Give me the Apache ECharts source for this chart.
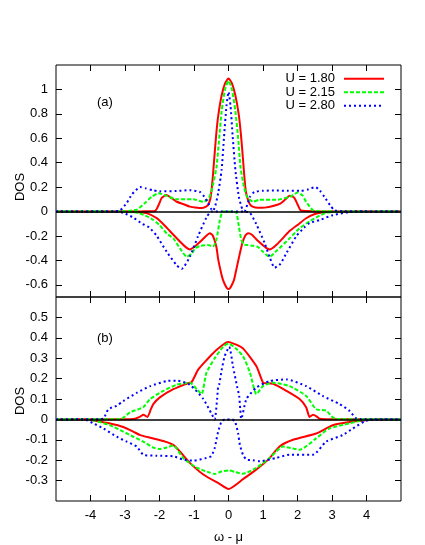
<!DOCTYPE html>
<html>
<head>
<meta charset="utf-8">
<script src="https://cdn.jsdelivr.net/npm/echarts@6/dist/echarts.min.js"></script>
<style>html,body{margin:0;padding:0;background:#fff}#c{width:425px;height:545px}</style>
</head>
<body>
<div id="c"></div>
<script>
// ---- data (omega - mu, DOS) ----
const seriesNames = ['U = 1.80', 'U = 2.15', 'U = 2.80'];
const xTicks = [-4, -3, -2, -1, 0, 1, 2, 3, 4];
const yTicksA = [-0.6, -0.4, -0.2, 0, 0.2, 0.4, 0.6, 0.8, 1];
const yTicksB = [-0.3, -0.2, -0.1, 0, 0.1, 0.2, 0.3, 0.4, 0.5];

// panel (a)
const aRedUp = [[-5,0],[-2.5,0.002],[-2.13,0.005],[-2.0,0.07],[-1.94,0.11],[-1.8,0.135],[-1.65,0.11],[-1.5,0.08],[-1.3,0.06],[-1.12,0.04],[-0.9,0.03],[-0.78,0.028],[-0.65,0.04],[-0.59,0.055],[-0.53,0.1],[-0.49,0.18],[-0.45,0.3],[-0.4,0.48],[-0.35,0.65],[-0.3,0.78],[-0.2,0.95],[-0.1,1.05],[0,1.09],[0.1,1.05],[0.2,0.95],[0.3,0.79],[0.35,0.66],[0.4,0.5],[0.45,0.32],[0.5,0.17],[0.56,0.1],[0.62,0.06],[0.7,0.04],[0.85,0.03],[1.05,0.032],[1.29,0.045],[1.5,0.065],[1.65,0.1],[1.77,0.13],[1.9,0.115],[2.0,0.06],[2.1,0.008],[2.5,0.002],[5,0]];
const aGreenUp = [[-5,0],[-3.05,0.002],[-2.66,0.015],[-2.42,0.07],[-2.23,0.12],[-2.03,0.15],[-1.79,0.128],[-1.5,0.1],[-1.02,0.1],[-0.73,0.08],[-0.59,0.1],[-0.5,0.16],[-0.45,0.22],[-0.35,0.36],[-0.27,0.6],[-0.2,0.82],[-0.1,1.0],[0,1.07],[0.1,1.0],[0.2,0.82],[0.28,0.6],[0.35,0.36],[0.45,0.2],[0.52,0.13],[0.6,0.1],[0.71,0.08],[0.9,0.096],[1.38,0.096],[1.77,0.12],[2.01,0.155],[2.15,0.13],[2.25,0.08],[2.45,0.01],[2.7,0.002],[5,0]];
const aBlueUp = [[-5,0],[-3.3,0.003],[-3.14,0.01],[-2.95,0.07],[-2.8,0.14],[-2.56,0.2],[-2.4,0.19],[-2.2,0.175],[-2.0,0.165],[-1.5,0.168],[-1.12,0.175],[-0.83,0.16],[-0.7,0.12],[-0.59,0.07],[-0.5,0.02],[-0.45,0.005],[-0.38,0.05],[-0.3,0.15],[-0.2,0.34],[-0.13,0.61],[-0.06,0.86],[0,0.98],[0.06,0.86],[0.12,0.62],[0.2,0.34],[0.3,0.12],[0.4,0.02],[0.47,0.005],[0.55,0.06],[0.62,0.12],[0.75,0.16],[1.0,0.17],[1.4,0.172],[1.7,0.17],[2.1,0.17],[2.3,0.18],[2.52,0.2],[2.65,0.17],[2.78,0.12],[2.95,0.05],[3.07,0.01],[3.3,0.003],[5,0]];
const aRedDn = [[-5,0],[-2.8,-0.002],[-2.6,-0.005],[-2.37,-0.013],[-2.08,-0.054],[-1.9,-0.1],[-1.7,-0.16],[-1.41,-0.245],[-1.2,-0.3],[-1.12,-0.31],[-0.95,-0.28],[-0.83,-0.25],[-0.65,-0.2],[-0.54,-0.178],[-0.45,-0.2],[-0.35,-0.29],[-0.3,-0.39],[-0.2,-0.52],[-0.16,-0.56],[-0.1,-0.6],[-0.05,-0.625],[0,-0.635],[0.05,-0.625],[0.1,-0.6],[0.16,-0.56],[0.2,-0.51],[0.3,-0.38],[0.4,-0.26],[0.48,-0.2],[0.57,-0.178],[0.68,-0.19],[0.85,-0.24],[1.1,-0.3],[1.2,-0.31],[1.4,-0.27],[1.77,-0.16],[2.0,-0.11],[2.25,-0.055],[2.5,-0.02],[2.7,-0.008],[3.0,-0.002],[5,0]];
const aGreenDn = [[-5,0],[-3.0,-0.002],[-2.6,-0.012],[-2.23,-0.06],[-2.0,-0.11],[-1.79,-0.18],[-1.6,-0.22],[-1.41,-0.3],[-1.21,-0.37],[-1.05,-0.34],[-0.97,-0.3],[-0.8,-0.28],[-0.6,-0.275],[-0.45,-0.285],[-0.35,-0.23],[-0.25,-0.07],[-0.16,0],[0.16,0],[0.23,-0.01],[0.3,-0.12],[0.37,-0.23],[0.45,-0.27],[0.55,-0.275],[0.7,-0.28],[0.85,-0.29],[1.0,-0.33],[1.19,-0.37],[1.4,-0.32],[1.77,-0.22],[2.05,-0.14],[2.35,-0.08],[2.6,-0.04],[2.83,-0.01],[3.1,-0.003],[5,0]];
const aBlueDn = [[-5,0],[-3.3,-0.003],[-3.05,-0.01],[-2.76,-0.05],[-2.5,-0.1],[-2.3,-0.13],[-2.08,-0.2],[-1.79,-0.33],[-1.5,-0.44],[-1.36,-0.47],[-1.12,-0.37],[-0.88,-0.2],[-0.64,-0.05],[-0.49,0],[0.45,0],[0.62,-0.01],[0.8,-0.1],[1.05,-0.26],[1.2,-0.38],[1.34,-0.46],[1.5,-0.43],[1.68,-0.34],[1.97,-0.2],[2.2,-0.13],[2.35,-0.095],[2.64,-0.07],[3.02,-0.03],[3.5,-0.005],[5,0]];

// panel (b)
const bRedUp = [[-5,0],[-2.85,0.001],[-2.71,0.003],[-2.55,0.015],[-2.47,0.023],[-2.35,0.012],[-2.25,0.05],[-2.18,0.075],[-1.99,0.108],[-1.6,0.148],[-1.21,0.175],[-1.07,0.183],[-0.88,0.244],[-0.64,0.29],[-0.35,0.34],[-0.06,0.378],[0,0.38],[0.2,0.368],[0.42,0.348],[0.81,0.26],[1.0,0.18],[1.1,0.177],[1.29,0.175],[1.68,0.14],[2.06,0.1],[2.25,0.06],[2.35,0.012],[2.45,0.023],[2.55,0.015],[2.64,0.003],[2.8,0.001],[5,0]];
const bGreenUp = [[-5,0],[-3.25,0.001],[-3.09,0.004],[-2.85,0.035],[-2.61,0.05],[-2.47,0.06],[-2.27,0.1],[-1.89,0.14],[-1.5,0.17],[-1.12,0.18],[-0.92,0.148],[-0.78,0.124],[-0.64,0.228],[-0.4,0.3],[-0.16,0.355],[0,0.372],[0.2,0.35],[0.42,0.31],[0.62,0.23],[0.81,0.124],[1.0,0.163],[1.29,0.18],[1.77,0.163],[2.25,0.115],[2.54,0.05],[2.83,0.043],[3.02,0.01],[3.15,0.002],[5,0]];
const bBlueUp = [[-5,0],[-3.75,0.001],[-3.62,0.005],[-3.48,0.05],[-3.24,0.067],[-3.05,0.09],[-2.66,0.13],[-2.27,0.163],[-1.79,0.188],[-1.5,0.19],[-1.12,0.17],[-0.73,0.1],[-0.49,0.027],[-0.4,0],[-0.33,0.1],[-0.3,0.16],[-0.27,0.17],[-0.2,0.24],[-0.11,0.31],[0.02,0.356],[0.13,0.26],[0.25,0.16],[0.31,0.115],[0.34,0.05],[0.37,0.003],[0.52,0.1],[0.81,0.156],[1.19,0.188],[1.68,0.196],[2.25,0.163],[2.73,0.115],[3.22,0.075],[3.5,0.043],[3.7,0.005],[3.85,0.001],[5,0]];
const bRedDn = [[-5,0],[-4.1,0],[-3.91,-0.005],[-3.43,-0.02],[-3.05,-0.037],[-2.76,-0.06],[-2.56,-0.077],[-2.27,-0.09],[-1.89,-0.106],[-1.6,-0.125],[-1.41,-0.157],[-1.12,-0.213],[-0.73,-0.27],[-0.25,-0.317],[0,-0.341],[0.42,-0.293],[0.81,-0.245],[1.15,-0.197],[1.48,-0.133],[1.87,-0.1],[2.54,-0.069],[3.02,-0.029],[3.5,-0.013],[3.94,-0.005],[4.1,0],[5,0]];
const bGreenDn = [[-5,0],[-4.1,0],[-3.91,-0.005],[-3.43,-0.029],[-3.05,-0.06],[-2.76,-0.085],[-2.47,-0.109],[-2.18,-0.138],[-2.0,-0.145],[-1.79,-0.138],[-1.6,-0.128],[-1.31,-0.19],[-0.92,-0.237],[-0.54,-0.261],[-0.4,-0.268],[-0.2,-0.255],[0,-0.25],[0.2,-0.258],[0.42,-0.266],[0.81,-0.237],[1.19,-0.19],[1.58,-0.133],[1.8,-0.14],[2.06,-0.149],[2.54,-0.093],[2.92,-0.045],[3.5,-0.02],[3.85,-0.005],[4.1,0],[5,0]];
const bBlueDn = [[-5,0],[-4.2,0],[-3.91,-0.02],[-3.62,-0.045],[-3.24,-0.085],[-2.95,-0.109],[-2.66,-0.133],[-2.47,-0.173],[-2.08,-0.178],[-1.6,-0.181],[-1.31,-0.197],[-1.02,-0.202],[-0.64,-0.189],[-0.5,-0.18],[-0.4,-0.14],[-0.35,-0.1],[-0.3,-0.06],[-0.2,-0.01],[-0.1,0],[0.1,0],[0.19,-0.01],[0.28,-0.07],[0.33,-0.125],[0.42,-0.173],[0.52,-0.197],[0.71,-0.2],[0.91,-0.205],[1.38,-0.189],[1.77,-0.173],[2.45,-0.173],[2.83,-0.109],[3.31,-0.077],[3.6,-0.045],[3.94,-0.01],[4.1,-0.003],[5,0]];

// ---- chart ----
const FONT = '"Liberation Sans", Arial, Helvetica, sans-serif';
const styles = [
  { color: '#ff0000', type: 'solid' },
  { color: '#00ff00', type: [4, 2] },
  { color: '#0000ff', type: [2, 3] }
];
const fmt = v => String(Number(v.toFixed(2)));

function xAxisDef(gridIndex, position, showLabel, name) {
  return {
    type: 'value', gridIndex, position, min: -5, max: 5,
    axisLine: { show: false, onZero: false }, splitLine: { show: false },
    axisTick: { show: true, inside: true, length: 6, customValues: xTicks, lineStyle: { color: '#000', width: 1 } },
    axisLabel: { show: showLabel, customValues: xTicks, margin: 8, color: '#000', fontSize: 13, fontFamily: FONT, formatter: fmt },
    name: name || '', nameLocation: 'middle', nameGap: 30,
    nameTextStyle: { color: '#000', fontSize: 13, fontFamily: FONT }
  };
}
function yAxisDef(gridIndex, position, showLabel, min, max, ticks) {
  return {
    type: 'value', gridIndex, position, min, max,
    axisLine: { show: false, onZero: false }, splitLine: { show: false },
    axisTick: { show: true, inside: true, length: 6, customValues: ticks, lineStyle: { color: '#000', width: 1 } },
    axisLabel: { show: showLabel, customValues: ticks, margin: 8, color: '#000', fontSize: 13, fontFamily: FONT, formatter: fmt }
  };
}

function curve(data, idx, axisIdx) {
  return {
    type: 'line', name: seriesNames[idx], data, xAxisIndex: axisIdx, yAxisIndex: axisIdx,
    symbol: 'none', smooth: 0.2, z: 3, animation: false,
    lineStyle: { color: styles[idx].color, type: styles[idx].type, width: 2, cap: 'butt' },
    itemStyle: { color: styles[idx].color }
  };
}
function zeroLine(axisIdx) {
  return {
    type: 'line', name: 'zero', data: [], xAxisIndex: axisIdx, yAxisIndex: axisIdx, z: 2, silent: true, animation: false,
    markLine: { silent: true, symbol: 'none', animation: false, label: { show: false },
      lineStyle: { color: '#000', width: 1.5, type: 'solid' }, data: [{ yAxis: 0 }] }
  };
}

const chart = echarts.init(document.getElementById('c'), null, { renderer: 'canvas' });
chart.setOption({
  animation: false,
  backgroundColor: '#fff',
  textStyle: { fontFamily: FONT },
  grid: [
    { left: 56, top: 65, width: 345, height: 232, show: true, borderColor: '#000', borderWidth: 1, backgroundColor: 'transparent' },
    { left: 56, top: 297, width: 345, height: 206, show: true, borderColor: '#000', borderWidth: 1, backgroundColor: 'transparent' }
  ],
  xAxis: [
    xAxisDef(0, 'bottom', false),
    xAxisDef(0, 'top', false),
    xAxisDef(1, 'bottom', true, 'ω - μ'),
    xAxisDef(1, 'top', false)
  ],
  yAxis: [
    yAxisDef(0, 'left', true, -0.7, 1.2, yTicksA),
    yAxisDef(0, 'right', false, -0.7, 1.2, yTicksA),
    yAxisDef(1, 'left', true, -0.4, 0.6, yTicksB),
    yAxisDef(1, 'right', false, -0.4, 0.6, yTicksB)
  ],
  legend: {
    data: seriesNames, orient: 'vertical', right: 40, top: 72, align: 'right',
    itemWidth: 40, itemHeight: 10, itemGap: 0, padding: 0,
    itemStyle: { opacity: 0 },
    textStyle: { color: '#000', fontSize: 13, fontFamily: FONT, lineHeight: 13.5, padding: [0, 4, 0, 0] }
  },
  graphic: [
    { type: 'text', left: 97, top: 96, style: { text: '(a)', fontSize: 13, fontFamily: FONT, fill: '#000' } },
    { type: 'text', left: 97, top: 332, style: { text: '(b)', fontSize: 13, fontFamily: FONT, fill: '#000' } },
    { type: 'text', x: 20, y: 187, rotation: Math.PI / 2, style: { text: 'DOS', fontSize: 13, fontFamily: FONT, fill: '#000', align: 'center', verticalAlign: 'middle' } },
    { type: 'text', x: 20, y: 401, rotation: Math.PI / 2, style: { text: 'DOS', fontSize: 13, fontFamily: FONT, fill: '#000', align: 'center', verticalAlign: 'middle' } }
  ],
  series: [
    zeroLine(0), zeroLine(2),
    curve(aRedUp, 0, 0), curve(aRedDn, 0, 0),
    curve(aGreenUp, 1, 0), curve(aGreenDn, 1, 0),
    curve(aBlueUp, 2, 0), curve(aBlueDn, 2, 0),
    curve(bRedUp, 0, 2), curve(bRedDn, 0, 2),
    curve(bGreenUp, 1, 2), curve(bGreenDn, 1, 2),
    curve(bBlueUp, 2, 2), curve(bBlueDn, 2, 2)
  ]
});
</script>
</body>
</html>
